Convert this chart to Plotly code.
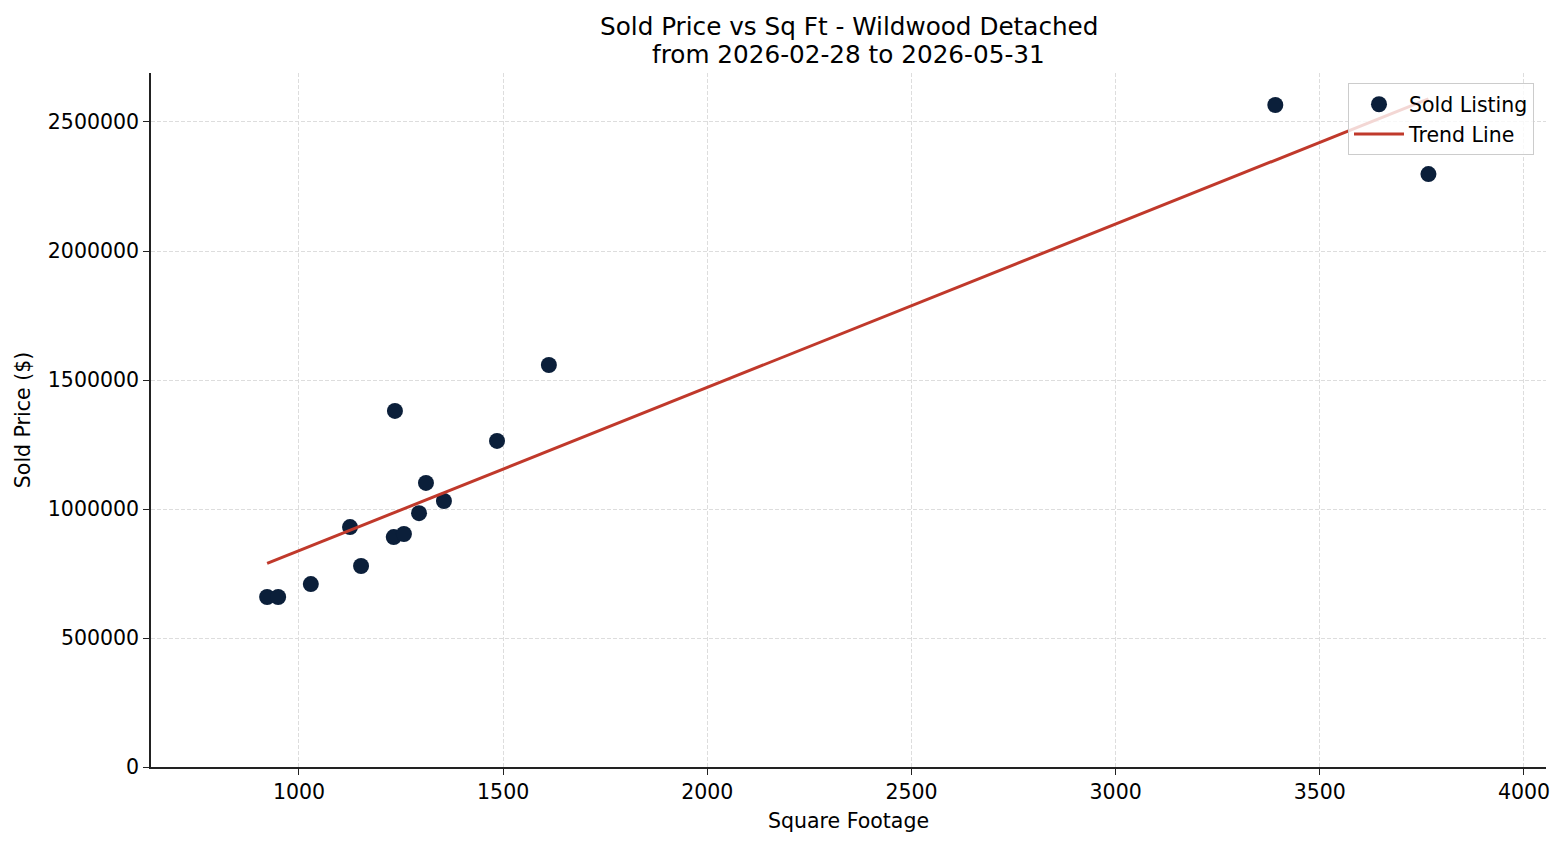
import numpy as np
import plotly.graph_objects as go

sqft = [922, 949, 1029, 1125, 1152, 1232, 1235, 1257, 1294, 1311, 1355, 1485, 1612, 3391, 3766]
price = [659000, 659000, 709000, 930000, 779000, 891000, 1380000, 903000, 984000, 1101000,
         1031000, 1264000, 1558000, 2566000, 2298000]

x_ticks = [1000, 1500, 2000, 2500, 3000, 3500, 4000]
y_ticks = [0, 500000, 1000000, 1500000, 2000000, 2500000]

title_line1 = "Sold Price vs Sq Ft - Wildwood Detached"
title_line2 = "from 2026-02-28 to 2026-05-31"

slope, intercept = np.polyfit(sqft, price, 1)
trend_x = [min(sqft), max(sqft)]
trend_y = [slope * v + intercept for v in trend_x]

FONT = "DejaVu Sans"
TICK = 20.5

fig = go.Figure()
fig.add_trace(go.Scatter(
    x=sqft, y=price, mode="markers", name="Sold Listing",
    marker=dict(size=16, color="#0b1f3a"),
))
fig.add_trace(go.Scatter(
    x=trend_x, y=trend_y, mode="lines", name="Trend Line",
    line=dict(color="#c0392b", width=3),
))

axis_common = dict(
    showline=True, linecolor="#222222", linewidth=1.5,
    ticks="outside", ticklen=6, tickwidth=1.3, tickcolor="#222222",
    showgrid=True, gridcolor="#dddddd", griddash="4px,2px", gridwidth=0.8,
    zeroline=False, tickfont=dict(family=FONT, size=TICK, color="#000000"),
    mirror=False,
)

fig.update_layout(
    width=1565, height=845,
    margin=dict(l=151, r=19, t=73, b=78),
    paper_bgcolor="white", plot_bgcolor="white",
    font=dict(family=FONT, color="#000000"),
    xaxis=dict(
        range=[637.6, 4053.9], tickvals=x_ticks, ticktext=[str(v) for v in x_ticks],
        title=dict(text="Square Footage", font=dict(family=FONT, size=TICK), standoff=10),
        **axis_common,
    ),
    yaxis=dict(
        range=[0, 2689900], tickvals=y_ticks, ticktext=[str(v) for v in y_ticks],
        title=dict(text="Sold Price ($)", font=dict(family=FONT, size=TICK), standoff=12),
        **axis_common,
    ),
    legend=dict(
        x=0.9914, y=0.985, xanchor="right", yanchor="top",
        bgcolor="rgba(255,255,255,0.8)", bordercolor="#cccccc", borderwidth=1,
        font=dict(family=FONT, size=TICK, color="#000000"),
        itemwidth=50, tracegroupgap=0,
    ),
    showlegend=True,
    annotations=[
        dict(text=title_line1, xref="paper", yref="paper", x=0.5, y=1 + 47 / 694,
             xanchor="center", yanchor="middle", showarrow=False,
             font=dict(family=FONT, size=24.7, color="#000000")),
        dict(text=title_line2, xref="paper", yref="paper", x=0.5, y=1 + 19 / 694,
             xanchor="center", yanchor="middle", showarrow=False,
             font=dict(family=FONT, size=24.7, color="#000000")),
    ],
)

fig.write_html("out.html")
